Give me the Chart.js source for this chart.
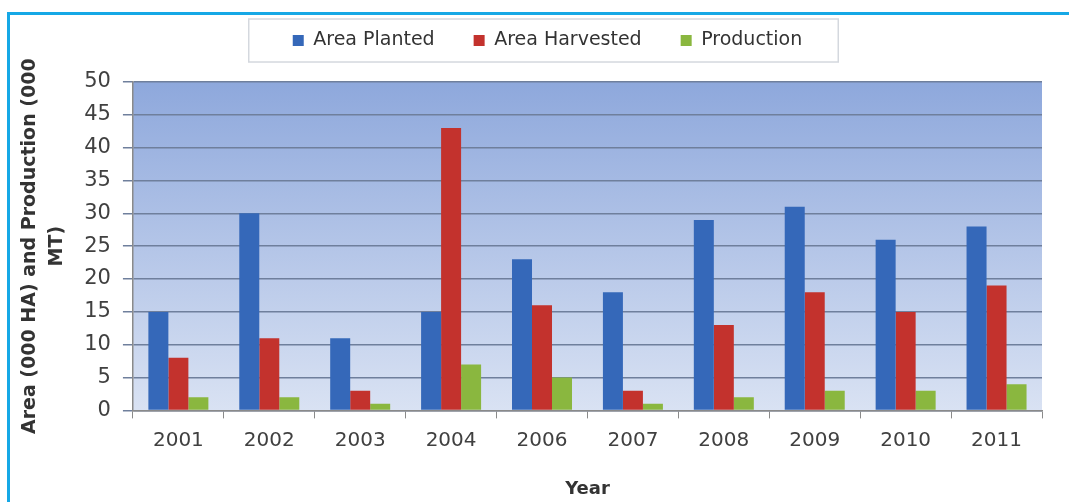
<!DOCTYPE html>
<html>
<head>
<meta charset="utf-8">
<script src="https://cdn.jsdelivr.net/npm/chart.js@4.4.1/dist/chart.umd.min.js"></script>
<style>
  html, body { margin: 0; padding: 0; background: #fff; }
  #wrap { position: relative; width: 1069px; height: 502px; overflow: hidden; }
  #frame { position: absolute; left: 7px; top: 12px; width: 1100px; height: 600px;
           border: 3px solid #16a8e6; box-sizing: border-box; }
  canvas { position: absolute; left: 0; top: 0; }
</style>
</head>
<body>
<div id="wrap">
  <div id="frame"></div>
  <canvas id="cropChart" width="1069" height="502"></canvas>
</div>
<script>
// Chart values
const years = ['2001', '2002', '2003', '2004', '2006', '2007', '2008', '2009', '2010', '2011'];
const areaPlanted = [15, 30, 11, 15, 23, 18, 29, 31, 26, 28];
const areaHarvested = [8, 11, 3, 43, 16, 3, 13, 18, 15, 19];
const production = [2, 2, 1, 7, 5, 1, 2, 3, 3, 4];
const yTicks = [0, 5, 10, 15, 20, 25, 30, 35, 40, 45, 50];

const fontFamily = '"DejaVu Sans", sans-serif';

// Gradient fill behind the bars, like the Excel plot area
const plotBackground = {
  id: 'plotBackground',
  beforeDraw(chart) {
    const { ctx, chartArea } = chart;
    const grad = ctx.createLinearGradient(0, chartArea.top, 0, chartArea.bottom);
    grad.addColorStop(0, '#8ea8dc');
    grad.addColorStop(1, '#d9e2f3');
    ctx.save();
    ctx.fillStyle = grad;
    ctx.fillRect(chartArea.left, chartArea.top, chartArea.right - chartArea.left, chartArea.bottom - chartArea.top);
    ctx.restore();
  }
};

// Legend: leave some room under it, nudge it right, and draw a white box round it
const legendBox = {
  id: 'legendBox',
  beforeUpdate(chart) {
    const lg = chart.legend;
    if (lg && !lg._extraRoom) {
      const fit = lg.fit.bind(lg);
      lg.fit = function () {
        fit();
        this.height += 22;
      };
      lg._extraRoom = true;
    }
  },
  afterLayout(chart) {
    chart.legend.left += 18;
    chart.legend.right += 18;
  },
  beforeDraw(chart) {
    const boxes = chart.legend.legendHitBoxes;
    if (!boxes || !boxes.length) return;
    const left = Math.min(...boxes.map(b => b.left)) - 44;
    const right = Math.max(...boxes.map(b => b.left + b.width)) + 36;
    const top = boxes[0].top - 12;
    const height = boxes[0].height + 24;
    const ctx = chart.ctx;
    ctx.save();
    ctx.fillStyle = '#ffffff';
    ctx.strokeStyle = '#d4d8de';
    ctx.lineWidth = 1.5;
    ctx.fillRect(left, top, right - left, height);
    ctx.strokeRect(left, top, right - left, height);
    ctx.restore();
  }
};

const ctx = document.getElementById('cropChart').getContext('2d');
new Chart(ctx, {
  type: 'bar',
  data: {
    labels: years,
    datasets: [
      { label: 'Area Planted', data: areaPlanted, backgroundColor: '#3568b9' },
      { label: 'Area Harvested', data: areaHarvested, backgroundColor: '#c3322d' },
      { label: 'Production', data: production, backgroundColor: '#8ab73f' }
    ]
  },
  options: {
    responsive: false,
    animation: false,
    layout: { padding: { left: 17, right: 27, top: -8, bottom: -2 } },
    datasets: {
      bar: { categoryPercentage: 0.66, barPercentage: 1.0 }
    },
    plugins: {
      legend: {
        position: 'top',
        labels: {
          boxWidth: 11,
          boxHeight: 11,
          padding: 39,
          color: '#333',
          font: { family: fontFamily, size: 19 }
        }
      },
      tooltip: { enabled: false }
    },
    scales: {
      x: {
        grid: { drawOnChartArea: false, drawTicks: true, tickLength: 8, color: '#8a8a8a', offset: true },
        border: { color: '#8a8a8a', width: 1.5 },
        ticks: { color: '#404040', padding: 10, font: { family: fontFamily, size: 20 } },
        title: {
          display: true,
          text: 'Year',
          color: '#333',
          padding: { top: 16 },
          font: { family: fontFamily, size: 18, weight: 'bold' }
        }
      },
      y: {
        min: 0,
        max: 50,
        afterBuildTicks(scale) {
          scale.ticks = yTicks.map(v => ({ value: v }));
        },
        grid: { color: '#6f7f9c', lineWidth: 1.5, tickLength: 10 },
        border: { color: '#8a8a8a', width: 1.5 },
        ticks: { color: '#404040', padding: 12, font: { family: fontFamily, size: 21 } },
        title: {
          display: true,
          text: ['Area (000 HA) and Production (000', 'MT)'],
          color: '#333',
          padding: { top: 0, bottom: 2 },
          font: { family: fontFamily, size: 19, weight: 'bold', lineHeight: 1.4 }
        }
      }
    }
  },
  plugins: [plotBackground, legendBox]
});
</script>
</body>
</html>
